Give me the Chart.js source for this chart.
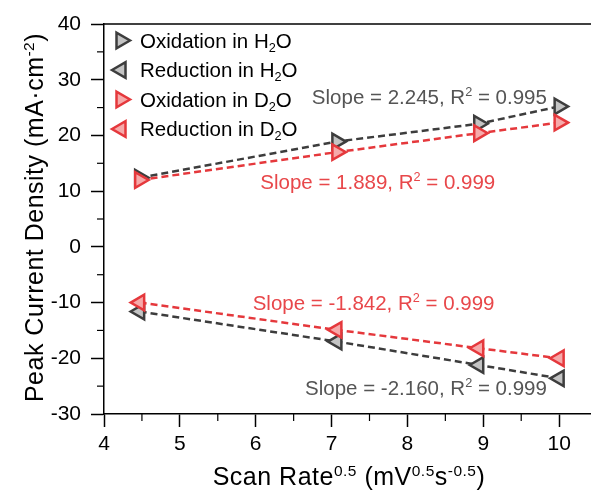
<!DOCTYPE html>
<html><head><meta charset="utf-8">
<script src="https://cdn.jsdelivr.net/npm/chart.js@4/dist/chart.umd.min.js"></script>
<style>html,body{margin:0;padding:0;background:#fff}canvas{display:block}</style>
</head><body>
<canvas id="c" width="591" height="490"></canvas>
<script>
// ---- data ----
const scanRate = [4.47, 7.07, 8.94, 10.0];          // sqrt(scan rate)
const oxH2O    = [12.4, 18.9, 22.1, 25.2];
const redH2O   = [-11.6, -17.0, -21.2, -23.6];
const oxD2O    = [12.0, 17.0, 20.4, 22.3];
const redD2O   = [-10.0, -14.9, -18.2, -20.0];
const seriesLabels = ['Oxidation in H_{2}O', 'Reduction in H_{2}O', 'Oxidation in D_{2}O', 'Reduction in D_{2}O'];
const fitLabels = ['Slope = 2.245, R^{2} = 0.995', 'Slope = -2.160, R^{2} = 0.999', 'Slope = 1.889, R^{2} = 0.999', 'Slope = -1.842, R^{2} = 0.999'];
const xTicks = [4, 5, 6, 7, 8, 9, 10];
const yTicks = [-30, -20, -10, 0, 10, 20, 30, 40];
const xMinor = [4.5, 5.5, 6.5, 7.5, 8.5, 9.5];
const yMinor = [-25, -15, -5, 5, 15, 25, 35];
const xTitle = 'Scan Rate^{0.5} (mV^{0.5}s^{-0.5})';
const yTitle = 'Peak Current Density (mA·cm^{-2})';

// ---- styles ----
const FONT = "'Liberation Sans', Arial, sans-serif";
const GRAY_LINE = '#3d3d3d', GRAY_FILL = '#c4c4c4', GRAY_TEXT = '#555555';
const RED_LINE = '#e5383c', RED_FILL = '#f6aaaa', RED_TEXT = '#e8474a';
const seriesStyle = [
  {line: GRAY_LINE, fill: GRAY_FILL, rot: 90, order: 2},
  {line: GRAY_LINE, fill: GRAY_FILL, rot: -90, order: 2},
  {line: RED_LINE, fill: RED_FILL, rot: 90, order: 1},
  {line: RED_LINE, fill: RED_FILL, rot: -90, order: 1}
];
const seriesValues = [oxH2O, redH2O, oxD2O, redD2O];
// annotation anchors in data units: left edge x, text centre y
const fitAnchors = [
  {x: 6.74, y: 26.9, color: GRAY_TEXT},
  {x: 6.65, y: -25.3, color: GRAY_TEXT},
  {x: 6.06, y: 11.65, color: RED_TEXT},
  {x: 5.96, y: -10.07, color: RED_TEXT}
];

// ---- rich text helpers (sub/superscripts) ----
function parseRich(s) {
  const segs = []; const re = /([_^])\{([^}]*)\}/g; let last = 0, m;
  while ((m = re.exec(s))) {
    if (m.index > last) segs.push({t: s.slice(last, m.index), mode: 0});
    segs.push({t: m[2], mode: m[1] === '^' ? 1 : -1});
    last = re.lastIndex;
  }
  if (last < s.length) segs.push({t: s.slice(last), mode: 0});
  return segs;
}
function segFont(size, mode) { return (mode ? (size * 0.62).toFixed(1) : size) + 'px ' + FONT; }
function richWidth(ctx, s, size) {
  let w = 0;
  for (const g of parseRich(s)) { ctx.font = segFont(size, g.mode); w += ctx.measureText(g.t).width; }
  return w;
}
function drawRich(ctx, s, x, y, size, color, align) {
  let cx = x;
  if (align === 'center') cx = x - richWidth(ctx, s, size) / 2;
  ctx.fillStyle = color; ctx.textBaseline = 'alphabetic'; ctx.textAlign = 'left';
  for (const g of parseRich(s)) {
    ctx.font = segFont(size, g.mode);
    const dy = g.mode === 1 ? -size * 0.38 : (g.mode === -1 ? size * 0.2 : 0);
    ctx.fillText(g.t, cx, y + dy);
    cx += ctx.measureText(g.t).width;
  }
}

const deco = {
  id: 'deco',
  afterDraw(chart) {
    const ctx = chart.ctx, xs = chart.scales.x, ys = chart.scales.y, a = chart.chartArea;
    ctx.save();
    // top border
    ctx.strokeStyle = '#000'; ctx.lineWidth = 1.5;
    ctx.beginPath(); ctx.moveTo(a.left, a.top); ctx.lineTo(a.right, a.top); ctx.stroke();
    // minor ticks
    ctx.lineWidth = 1.2;
    for (const v of xMinor) { const px = xs.getPixelForValue(v); ctx.beginPath(); ctx.moveTo(px, a.bottom); ctx.lineTo(px, a.bottom + 7); ctx.stroke(); }
    for (const v of yMinor) { const py = ys.getPixelForValue(v); ctx.beginPath(); ctx.moveTo(a.left, py); ctx.lineTo(a.left - 7, py); ctx.stroke(); }
    // legend
    const rowY = [40.5, 70, 99.5, 129];
    seriesLabels.forEach((lab, i) => {
      const st = seriesStyle[i];
      ctx.fillStyle = st.fill; ctx.strokeStyle = st.line; ctx.lineWidth = 2.5;
      ctx.beginPath();
      const r = 9, rad0 = st.rot * Math.PI / 180;
      for (let k = 0; k < 3; k++) { const rad = rad0 + k * 2 * Math.PI / 3; const px = 121 + Math.sin(rad) * r, py = rowY[i] - Math.cos(rad) * r; k ? ctx.lineTo(px, py) : ctx.moveTo(px, py); }
      ctx.closePath(); ctx.fill(); ctx.stroke();
      drawRich(ctx, lab, 140, rowY[i] + 7.3, 20.5, '#000', 'left');
    });
    // fit annotations
    fitLabels.forEach((lab, i) => {
      const an = fitAnchors[i];
      drawRich(ctx, lab, xs.getPixelForValue(an.x), ys.getPixelForValue(an.y) + 7.3, 20.5, an.color, 'left');
    });
    // axis titles
    try { ctx.letterSpacing = '0.5px'; } catch (e) {}
    drawRich(ctx, xTitle, 349, 485, 25, '#000', 'center');
    ctx.save();
    ctx.translate(43, 217.5);
    ctx.rotate(-Math.PI / 2);
    drawRich(ctx, yTitle, 0, 0, 25, '#000', 'center');
    ctx.restore();
    try { ctx.letterSpacing = '0px'; } catch (e) {}
    ctx.restore();
  }
};

const datasets = seriesLabels.map((lab, i) => {
  const st = seriesStyle[i];
  return {
    label: lab,
    data: scanRate.map((x, k) => ({x, y: seriesValues[i][k]})),
    borderColor: st.line, borderWidth: 2.5, borderDash: [7, 4],
    pointStyle: 'triangle', pointRotation: st.rot, pointRadius: 9,
    pointBackgroundColor: st.fill, pointBorderColor: st.line, pointBorderWidth: 2.5,
    fill: false, tension: 0, order: st.order, clip: false
  };
});

new Chart(document.getElementById('c'), {
  type: 'line',
  data: {datasets},
  options: {
    responsive: false, animation: false,
    layout: {autoPadding: false, padding: {top: 24, left: 0, right: 0, bottom: 0}},
    plugins: {legend: {display: false}, tooltip: {enabled: false}},
    scales: {
      x: {
        type: 'linear', min: 4, max: 10.42,
        afterBuildTicks: s => { s.ticks = xTicks.map(v => ({value: v})); },
        afterFit: s => { s.height = 76; s.paddingLeft = 0; s.paddingRight = 0; },
        grid: {drawOnChartArea: false, tickLength: 13, tickColor: '#000', tickWidth: 1.5},
        border: {color: '#000', width: 1.5},
        ticks: {color: '#000', font: {family: FONT, size: 21}, padding: 5, maxRotation: 0, autoSkip: false}
      },
      y: {
        type: 'linear', min: -30, max: 40,
        afterBuildTicks: s => { s.ticks = yTicks.map(v => ({value: v})); },
        afterFit: s => { s.width = 104; s.paddingTop = 0; s.paddingBottom = 0; },
        grid: {drawOnChartArea: false, tickLength: 13, tickColor: '#000', tickWidth: 1.5},
        border: {color: '#000', width: 1.5},
        ticks: {color: '#000', font: {family: FONT, size: 21}, padding: 10, autoSkip: false}
      }
    }
  },
  plugins: [deco]
});
</script>
</body></html>
